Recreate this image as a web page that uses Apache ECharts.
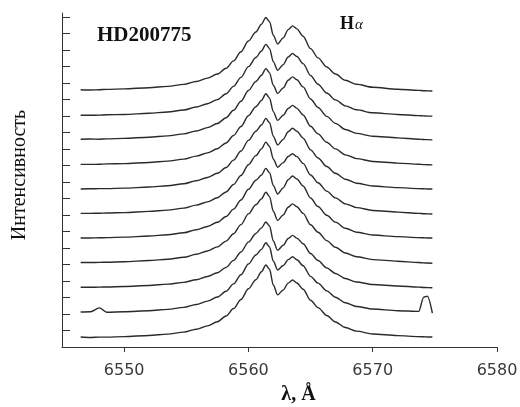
<!DOCTYPE html>
<html>
<head>
<meta charset="utf-8">
<script src="https://cdn.jsdelivr.net/npm/echarts@6/dist/echarts.min.js"></script>
<style>
html,body{margin:0;padding:0;background:#fff;}
#chart{width:520px;height:407px;}
</style>
</head>
<body>
<div id="chart"></div>
<script>
// Wavelength grid (Å)
const wavelengths = [6546.5, 6547.3, 6548.0, 6548.6, 6550.0, 6552.0, 6553.5, 6554.8, 6555.8, 6556.7, 6557.5, 6558.2, 6558.8, 6559.4, 6560.0, 6560.6, 6561.05, 6561.4, 6561.7, 6562.0, 6562.35, 6562.8, 6563.2, 6563.55, 6563.9, 6564.4, 6565.0, 6565.6, 6566.3, 6567.0, 6567.8, 6568.7, 6570.0, 6572.0, 6573.7, 6574.1, 6574.4, 6574.8];

// Stacked H-alpha profiles (top to bottom), intensity in plot units
const spectrum1  = [15.6, 15.58, 15.6, 15.62, 15.65, 15.72, 15.8, 15.92, 16.1, 16.3, 16.55, 16.9, 17.35, 17.9, 18.55, 19.1, 19.57, 19.98, 19.72, 18.9, 18.37, 18.74, 19.24, 19.47, 19.29, 18.84, 18.09, 17.53, 16.98, 16.55, 16.17, 15.93, 15.75, 15.63, 15.56, 15.54, 15.53, 15.52];
const spectrum2  = [14.05, 14.05, 14.06, 14.08, 14.1, 14.17, 14.25, 14.37, 14.55, 14.75, 15.0, 15.35, 15.8, 16.35, 17.0, 17.55, 17.95, 18.35, 18.09, 17.3, 16.78, 17.12, 17.58, 17.79, 17.61, 17.18, 16.46, 15.93, 15.4, 14.98, 14.62, 14.38, 14.2, 14.1, 14.03, 14.01, 14.0, 14.0];
const spectrum3  = [12.6, 12.61, 12.6, 12.62, 12.65, 12.72, 12.8, 12.92, 13.1, 13.3, 13.55, 13.9, 14.35, 14.9, 15.55, 16.1, 16.48, 16.88, 16.62, 15.87, 15.37, 15.71, 16.17, 16.38, 16.2, 15.77, 15.04, 14.52, 13.98, 13.56, 13.19, 12.95, 12.78, 12.68, 12.6, 12.58, 12.57, 12.56];
const spectrum4  = [11.07, 11.07, 11.08, 11.1, 11.12, 11.19, 11.27, 11.39, 11.57, 11.77, 12.02, 12.37, 12.82, 13.37, 14.02, 14.57, 14.95, 15.35, 15.09, 14.27, 13.74, 14.05, 14.46, 14.65, 14.47, 14.07, 13.38, 12.92, 12.41, 12.01, 11.65, 11.42, 11.25, 11.15, 11.08, 11.06, 11.05, 11.04];
const spectrum5  = [9.58, 9.59, 9.6, 9.6, 9.63, 9.7, 9.78, 9.9, 10.08, 10.28, 10.53, 10.88, 11.33, 11.88, 12.53, 13.08, 13.46, 13.86, 13.6, 12.78, 12.25, 12.59, 13.05, 13.26, 13.08, 12.66, 11.95, 11.46, 10.94, 10.53, 10.17, 9.93, 9.76, 9.66, 9.6, 9.59, 9.58, 9.58];
const spectrum6  = [8.1, 8.1, 8.11, 8.12, 8.15, 8.22, 8.3, 8.42, 8.6, 8.8, 9.05, 9.4, 9.85, 10.4, 11.05, 11.6, 12.01, 12.42, 12.16, 11.4, 10.9, 11.18, 11.55, 11.72, 11.54, 11.13, 10.43, 9.96, 9.45, 9.04, 8.68, 8.45, 8.28, 8.18, 8.1, 8.08, 8.07, 8.06];
const spectrum7  = [6.61, 6.61, 6.62, 6.63, 6.66, 6.73, 6.81, 6.93, 7.11, 7.31, 7.56, 7.91, 8.36, 8.91, 9.56, 10.11, 10.43, 10.83, 10.57, 9.79, 9.28, 9.65, 10.14, 10.37, 10.19, 9.76, 9.03, 8.52, 7.99, 7.57, 7.2, 6.96, 6.79, 6.69, 6.63, 6.62, 6.61, 6.61];
const spectrum8  = [5.12, 5.12, 5.13, 5.14, 5.17, 5.24, 5.32, 5.44, 5.62, 5.82, 6.07, 6.42, 6.87, 7.42, 8.07, 8.62, 8.98, 9.38, 9.12, 8.23, 7.67, 8.01, 8.47, 8.68, 8.5, 8.1, 7.41, 6.96, 6.45, 6.05, 5.7, 5.47, 5.3, 5.2, 5.12, 5.1, 5.09, 5.08];
const spectrum9  = [3.62, 3.62, 3.63, 3.64, 3.67, 3.73, 3.81, 3.92, 4.08, 4.27, 4.5, 4.83, 5.25, 5.76, 6.36, 6.88, 7.22, 7.58, 7.34, 6.43, 5.86, 6.17, 6.58, 6.77, 6.6, 6.26, 5.67, 5.24, 4.8, 4.46, 4.15, 3.94, 3.79, 3.7, 3.63, 3.61, 3.6, 3.59];
const spectrum10 = [2.12, 2.14, 2.37, 2.11, 2.14, 2.2, 2.28, 2.4, 2.58, 2.78, 3.03, 3.38, 3.83, 4.38, 5.03, 5.58, 5.92, 6.32, 6.06, 5.21, 4.67, 4.94, 5.3, 5.47, 5.29, 4.93, 4.28, 3.87, 3.4, 3.02, 2.68, 2.46, 2.3, 2.2, 2.16, 3.02, 3.08, 2.06];
const spectrum11 = [0.61, 0.58, 0.6, 0.6, 0.63, 0.7, 0.78, 0.9, 1.08, 1.28, 1.53, 1.88, 2.33, 2.88, 3.53, 4.08, 4.56, 4.97, 4.71, 3.76, 3.16, 3.46, 3.87, 4.06, 3.88, 3.5, 2.83, 2.39, 1.91, 1.52, 1.18, 0.96, 0.79, 0.69, 0.63, 0.62, 0.61, 0.61];

const spectra = [spectrum1, spectrum2, spectrum3, spectrum4, spectrum5, spectrum6, spectrum7, spectrum8, spectrum9, spectrum10, spectrum11];

const xTicks = [6550, 6560, 6570, 6580];
const yTicks = [0, 1, 2, 3, 4, 5, 6, 7, 8, 9, 10, 11, 12, 13, 14, 15, 16, 17, 18, 19, 20];

const chart = echarts.init(document.getElementById('chart'), null, {renderer: 'canvas'});

const axisColor = '#333';

const option = {
  animation: false,
  backgroundColor: '#fff',
  grid: {left: 62, right: 23, top: 13, bottom: 60, containLabel: false, outerBoundsMode: 'none'},
  xAxis: {
    type: 'value',
    min: 6545,
    max: 6580,
    name: 'λ, Å',
    nameLocation: 'middle',
    nameGap: 38,
    nameTextStyle: {fontFamily: 'Liberation Serif', fontWeight: 'bold', fontSize: 20, color: '#111', padding: [0, 0, 0, 38]},
    axisLine: {show: true, lineStyle: {color: axisColor, width: 1}},
    axisTick: {show: true, customValues: xTicks, length: 5, lineStyle: {color: axisColor}},
    axisLabel: {customValues: xTicks, margin: 16, fontFamily: 'DejaVu Sans', fontSize: 16, color: '#3a3a3a',
      formatter: v => String(v)},
    splitLine: {show: false}
  },
  yAxis: {
    type: 'value',
    min: 0,
    max: 20.25,
    name: 'Интенсивность',
    nameLocation: 'middle',
    nameGap: 32,
    nameRotate: 90,
    nameTextStyle: {fontFamily: 'Liberation Serif', fontSize: 20, color: '#111', padding: [0, 0, 0, 10]},
    axisLine: {show: true, lineStyle: {color: axisColor, width: 1}},
    axisTick: {show: true, inside: true, customValues: yTicks, length: 8, lineStyle: {color: axisColor}},
    axisLabel: {show: false},
    splitLine: {show: false}
  },
  graphic: [
    {type: 'text', left: 97, top: 25, style: {text: 'HD200775', fontFamily: 'Liberation Serif', fontWeight: 'bold', fontSize: 21, fill: '#111'}},
    {type: 'text', left: 340, top: 15, style: {
      text: '{h|H}{a|α}',
      rich: {
        h: {fontFamily: 'Liberation Serif', fontWeight: 'bold', fontSize: 18, fill: '#111', verticalAlign: 'bottom'},
        a: {fontFamily: 'Liberation Serif', fontStyle: 'italic', fontSize: 15, fill: '#111', verticalAlign: 'bottom', padding: [8, 0, 0, 1]}
      }
    }}
  ],
  series: spectra.map((s, i) => ({
    type: 'line',
    name: 'spectrum' + (i + 1),
    data: wavelengths.map((w, j) => [w, s[j]]),
    showSymbol: false,
    symbol: 'none',
    smooth: 0.3,
    smoothMonotone: 'x',
    lineStyle: {color: '#2a2a2a', width: 1.4},
    silent: true
  }))
};

chart.setOption(option);
</script>
</body>
</html>
